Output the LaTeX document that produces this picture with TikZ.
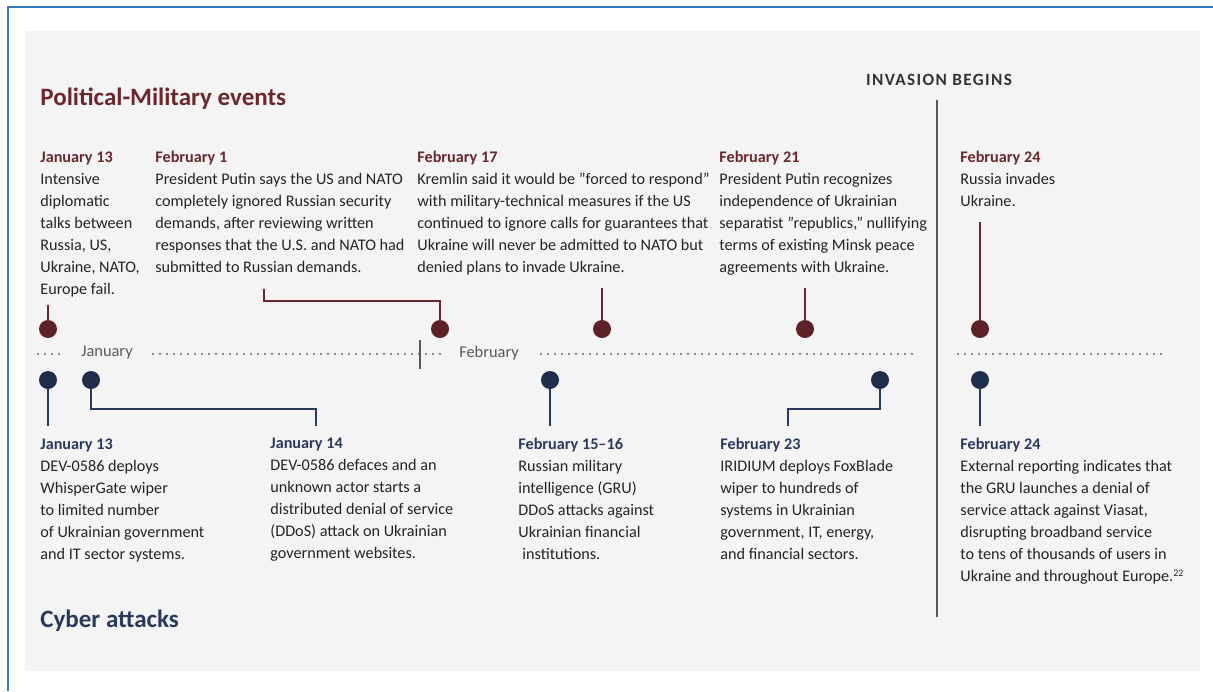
\documentclass[tikz,border=0pt]{standalone}
\usepackage{fontspec}
\setmainfont{Carlito}
\usetikzlibrary{positioning, calc}
\definecolor{polred}{HTML}{6B272C}
\definecolor{dotred}{HTML}{5C2226}
\definecolor{cybblue}{HTML}{2A3A5E}
\definecolor{dotblue}{HTML}{1F2E4D}
\definecolor{panel}{HTML}{F4F4F4}
\definecolor{frameblue}{HTML}{3A78C2}
\definecolor{textmain}{HTML}{242424}
\definecolor{axis}{HTML}{8A8A8A}
\newcommand{\qt}{\symbol{34}}

\begin{document}
\begin{tikzpicture}[x=0.5pt, y=-0.5pt,
    ev/.style={anchor=north west, inner sep=0pt, align=left, text=textmain,
               font=\fontsize{8.1}{11}\selectfont},
    dpol/.style={circle, fill=dotred, inner sep=0pt, minimum size=9pt},
    dcyb/.style={circle, fill=dotblue, inner sep=0pt, minimum size=9pt},
    spol/.style={draw=polred, line width=0.8pt},
    scyb/.style={draw=cybblue, line width=0.8pt},
    axisdots/.style={draw=axis, line width=1pt, dash pattern=on 1pt off 2.5pt},
    month/.style={inner sep=0pt, text=black!65, font=\fontsize{8.2}{10}\selectfont}
  ]
  \useasboundingbox (0,0) rectangle (1213,691);
  \fill[panel] (25,31) rectangle (1200,671);
  \draw[frameblue, line width=1.3pt] (8,691) -- (8,7) -- (1213,7);

  % headings
  \node[anchor=west, inner sep=0pt, text=polred, font=\fontsize{12.5}{15}\bfseries] (hpol) at (40,99) {Political-Military events};
  \node[anchor=west, inner sep=0pt, text=cybblue, font=\fontsize{12.5}{15}\bfseries] (hcyb) at (40,621) {Cyber attacks};
  \node[inner sep=0pt, text=black!80, font=\fontsize{8.6}{10}\bfseries\addfontfeatures{LetterSpace=8}] (inv) at (939,80) {INVASION BEGINS};
  \draw[black!65, line width=1.2pt] (937,100) -- (937,617);

  % political-military events
  \node[ev] (p1) at (40,151) {{\bfseries\color{polred}January 13}\\Intensive\\diplomatic\\talks between\\Russia, US,\\Ukraine, NATO,\\Europe fail.};
  \node[ev] (p2) at (155,151) {{\bfseries\color{polred}February 1}\\President Putin says the US and NATO\\completely ignored Russian security\\demands, after reviewing written\\responses that the U.S. and NATO had\\submitted to Russian demands.};
  \node[ev] (p3) at (417,151) {{\bfseries\color{polred}February 17}\\Kremlin said it would be \qt forced to respond\qt\\with military-technical measures if the US\\continued to ignore calls for guarantees that\\Ukraine will never be admitted to NATO but\\denied plans to invade Ukraine.};
  \node[ev] (p4) at (719,151) {{\bfseries\color{polred}February 21}\\President Putin recognizes\\independence of Ukrainian\\separatist \qt republics,'' nullifying\\terms of existing Minsk peace\\agreements with Ukraine.};
  \node[ev] (p5) at (960,151) {{\bfseries\color{polred}February 24}\\Russia invades\\Ukraine.};

  % cyber attacks
  \node[ev] (c1) at (40,438) {{\bfseries\color{cybblue}January 13}\\DEV-0586 deploys\\WhisperGate wiper\\to limited number\\of Ukrainian government\\and IT sector systems.};
  \node[ev] (c2) at (270,438) {{\bfseries\color{cybblue}January 14}\\DEV-0586 defaces and an\\unknown actor starts a\\distributed denial of service\\(DDoS) attack on Ukrainian\\government websites.};
  \node[ev] (c3) at (518,438) {{\bfseries\color{cybblue}February 15--16}\\Russian military\\intelligence (GRU)\\DDoS attacks against\\Ukrainian financial\\\hspace{2pt}institutions.};
  \node[ev] (c4) at (720,438) {{\bfseries\color{cybblue}February 23}\\IRIDIUM deploys FoxBlade\\wiper to hundreds of\\systems in Ukrainian\\government, IT, energy,\\and financial sectors.};
  \node[ev] (c5) at (960,438) {{\bfseries\color{cybblue}February 24}\\External reporting indicates that\\the GRU launches a denial of\\service attack against Viasat,\\disrupting broadband service\\to tens of thousands of users in\\Ukraine and throughout Europe.\textsuperscript{\tiny 22}};

  % timeline
  \draw[axisdots] (37,354) -- (65,354);
  \node[month] (jan) at (107,353) {January};
  \draw[axisdots] (152,354) -- (446,354);
  \draw[black!65, line width=0.8pt] (420,340) -- (420,369);
  \node[month] (feb) at (489,353) {February};
  \draw[axisdots] (540,354) -- (917,354);
  \draw[axisdots] (957,354) -- (1165,354);

  % dots above the line
  \node[dpol] (pd1) at (48,329) {};
  \node[dpol] (pd2) at (440,329) {};
  \node[dpol] (pd3) at (602,329) {};
  \node[dpol] (pd4) at (805,329) {};
  \node[dpol] (pd5) at (980,329) {};
  \coordinate (pt1) at (48,305);
  \coordinate (pt2) at (264,289);
  \coordinate (pt3) at (602,288);
  \coordinate (pt4) at (805,288);
  \coordinate (pt5) at (980,222);
  \draw[spol] (pt1) -- (pd1);
  \draw[spol] (pt2) -- ++(0,12) -| (pd2);
  \draw[spol] (pt3) -- (pd3);
  \draw[spol] (pt4) -- (pd4);
  \draw[spol] (pt5) -- (pd5);

  % dots below the line
  \node[dcyb] (cd1) at (48,380) {};
  \node[dcyb] (cd2) at (91,380) {};
  \node[dcyb] (cd3) at (550,380) {};
  \node[dcyb] (cd4) at (880,380) {};
  \node[dcyb] (cd5) at (980,380) {};
  \coordinate (ct1) at (48,426);
  \coordinate (ct2) at (316,426);
  \coordinate (ct3) at (550,426);
  \coordinate (ct4) at (788,426);
  \coordinate (ct5) at (980,426);
  \draw[scyb] (cd1) -- (ct1);
  \draw[scyb] (cd2) -- ++(0,29) -| (ct2);
  \draw[scyb] (cd3) -- (ct3);
  \draw[scyb] (cd4) -- ++(0,29) -| (ct4);
  \draw[scyb] (cd5) -- (ct5);
\end{tikzpicture}
\end{document}
